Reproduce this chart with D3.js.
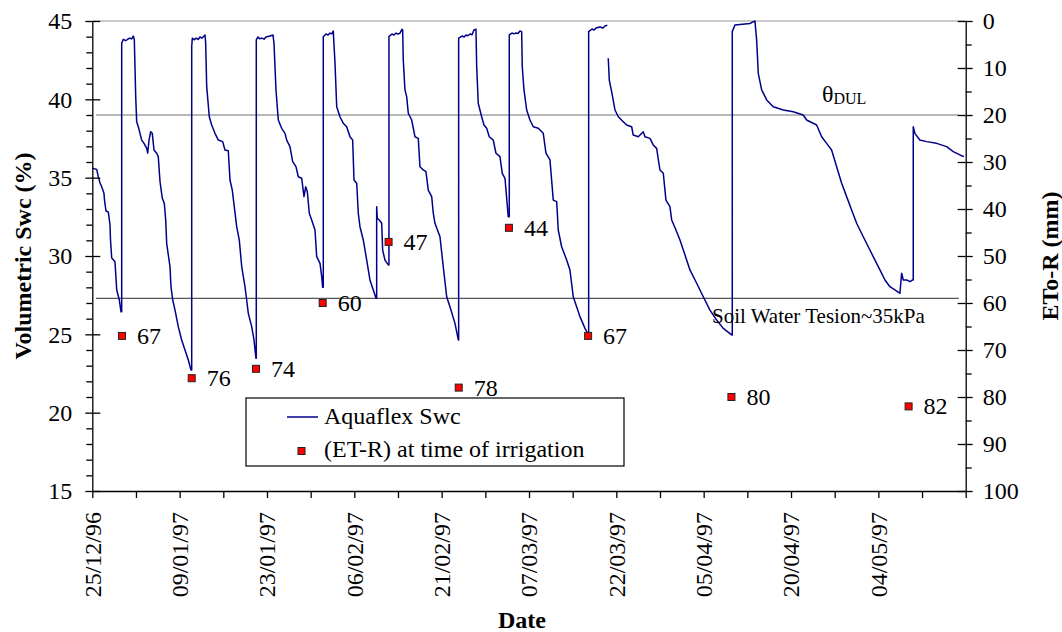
<!DOCTYPE html>
<html>
<head>
<meta charset="utf-8">
<script src="https://cdn.jsdelivr.net/npm/d3@7"></script>
<style>
  body { margin: 0; background: #fff; }
  svg { display: block; }
  text { font-family: "Liberation Serif", "Times New Roman", serif; fill: #000; }
</style>
</head>
<body>
<svg id="chart" width="1062" height="632"></svg>
<script>
// Aquaflex soil water content, days counted from 25/12/96; null marks a logging gap
const swcSeries = [
  [0,35.60],[0.73,35.53],[0.99,35.06],[1.27,34.68],[1.55,34.42],[1.93,34.0],[2.02,33.57],[2.27,32.87],[2.65,32.81],[2.93,31.98],[3.01,31.02],[3.21,29.87],[3.75,29.64],[4.04,27.83],[4.47,27.19],[4.75,26.44],
  [4.86,26.44],[4.86,43.58],
  [5.13,43.83],[5.5,43.74],[5.90,43.85],[6.23,43.91],[6.5,43.86],[6.78,44.04],[6.95,43.79],[7.06,42.08],[7.18,40.17],[7.34,38.57],[7.61,38.25],[7.89,37.83],[8.17,37.40],[8.55,37.19],[9.0,36.87],[9.16,36.56],[9.38,37.40],[9.66,37.93],[9.92,37.83],[10.20,36.77],[10.65,36.56],[10.91,36.34],[11.20,34.74],[11.58,33.68],[11.91,33.36],[12.14,32.30],[12.30,30.81],[12.85,29.32],[13.01,28.04],[13.30,27.19],[13.68,26.55],[14.22,25.49],[14.78,24.64],[15.33,24.0],[15.88,23.36],[16.32,22.72],
  [16.44,22.72],[16.44,43.36],
  [16.54,43.90],[16.9,43.80],[17.15,43.91],[17.5,43.82],[17.81,43.98],[18.1,43.90],[18.47,44.04],[18.64,44.11],[18.75,43.58],[18.92,40.81],[19.35,38.89],[19.74,38.36],[20.29,37.83],[20.84,37.40],[21.56,37.30],[21.94,36.77],[22.49,36.72],[22.77,34.85],[23.15,34.21],[23.48,33.15],[23.88,31.87],[24.31,31.02],[24.71,29.32],[25.25,28.04],[25.53,27.19],[25.80,26.34],[26.36,25.49],[26.74,24.64],[27.07,23.47],
  [27.12,23.47],[27.12,43.79],
  [27.40,43.98],[27.7,43.86],[28.06,43.91],[28.4,43.84],[28.72,43.98],[29.39,44.04],[29.88,44.11],[30.05,43.58],[30.38,40.60],[30.76,38.68],[31.32,38.15],[31.87,37.83],[32.15,37.40],[32.69,36.98],[33.14,36.02],[33.68,35.70],[34.07,35.06],[34.63,34.96],[35.01,33.79],[35.29,34.42],[35.56,34.10],[35.89,32.73],[36.28,32.30],[36.83,31.66],[37.11,29.96],[37.66,29.53],[37.94,28.68],[38.10,28.0],
  [38.20,28.0],[38.20,44.0],
  [38.65,44.17],[39.0,44.10],[39.31,44.23],[39.6,44.18],[39.85,44.36],[40.14,42.30],[40.42,39.53],[40.96,38.89],[41.51,38.47],[42.07,38.25],[42.62,37.61],[43.06,37.40],[43.28,34.85],[43.73,34.64],[43.99,32.73],[44.27,31.87],[44.82,31.02],[45.38,29.74],[45.92,28.47],[46.47,27.83],[46.92,27.30],
  [47.03,27.30],[47.03,33.15],
  [47.13,32.41],[47.46,32.30],[47.86,32.09],[48.02,30.38],[48.40,29.74],[48.95,29.43],
  [49.06,29.43],[49.06,44.0],
  [49.56,44.17],[49.9,44.10],[50.22,44.23],[50.55,44.16],[50.88,44.23],[51.21,44.47],[51.33,44.43],[51.43,42.51],[51.71,40.60],[51.99,40.17],[52.26,39.11],[52.82,38.68],[53.37,37.61],[53.91,37.51],[54.19,35.70],[54.74,35.49],[55.18,35.38],[55.56,34.21],[56.13,33.79],[56.39,32.73],[56.67,32.09],[57.50,31.23],[58.04,29.32],[58.61,27.40],[59.15,26.76],[59.98,25.70],[60.53,24.64],
  [60.59,24.64],[60.59,43.90],
  [61.14,44.04],[61.5,43.98],[61.80,44.11],[62.1,44.06],[62.46,44.17],[62.8,44.12],[63.12,44.43],[63.45,44.47],[63.57,42.08],[63.83,39.75],[64.39,38.89],[64.78,38.36],[65.22,38.15],[65.65,37.61],[66.31,37.40],[66.76,36.56],[67.42,36.34],[67.80,35.28],[68.25,34.96],[68.79,32.51],
  [68.96,32.51],[68.96,44.11],
  [69.41,44.23],[69.75,44.18],[70.07,44.23],[70.4,44.20],[70.73,44.36],[71.01,44.32],[71.11,42.08],[71.39,40.60],[71.84,39.32],[72.38,38.68],[72.93,38.25],[73.76,38.15],[74.58,37.83],[75.03,36.56],[75.69,36.13],[76.24,33.57],[76.80,33.47],[77.06,31.66],[77.62,30.59],[78.45,29.74],[78.99,29.11],[79.54,27.40],[80.10,26.76],[80.65,26.13],[81.48,25.38],[81.92,25.07],
  [82.09,25.07],[82.09,44.32],
  [82.64,44.49],[83.0,44.42],[83.30,44.55],[83.96,44.62],[84.46,44.55],[84.79,44.68],[85.17,44.74],
  [85.25,null],
  [85.33,42.62],[85.50,41.23],[85.89,40.49],[86.44,39.32],[86.99,38.89],[87.81,38.57],[88.37,38.36],[89.20,38.25],[89.46,37.72],[90.29,37.61],[91.12,37.93],[91.40,37.61],[92.23,37.51],[92.77,37.09],[93.33,36.87],[93.88,35.49],[94.43,35.28],[94.87,33.57],[95.53,33.15],[95.82,32.30],[96.53,31.66],[97.19,31.02],[98.02,30.06],[98.84,29.11],[99.95,28.26],[101.04,27.40],[102.15,26.55],[103.26,25.91],[104.35,25.38],[105.74,24.96],
  [105.84,24.96],[105.84,44.32],
  [106.28,44.74],[107.11,44.78],[107.93,44.81],[108.76,44.84],[109.26,44.94],[109.59,45.0],[109.87,43.79],[110.14,41.66],[110.70,40.60],[111.53,39.96],[112.62,39.53],[114.27,39.32],[115.92,39.21],[117.58,39.0],[118.14,38.68],[119.79,38.36],[120.62,37.61],[121.45,37.19],[122.27,36.77],[123.10,35.70],[123.93,34.64],[124.75,33.79],[125.58,32.94],[126.41,32.09],[127.50,31.23],[128.33,30.59],[129.15,29.96],[130.26,29.11],[131.09,28.47],[131.91,28.04],[132.74,27.83],[133.57,27.62],[133.85,28.90],[134.12,28.47],[134.68,28.47],[135.23,28.36],[135.67,28.47],
  [135.77,28.47],[135.77,38.25],
  [136.04,37.83],[136.86,37.40],[137.98,37.30],[139.63,37.19],[141.29,36.98],[142.38,36.66],[143.49,36.45],[144.15,36.34]
];

// (ETo - R) accumulated at each irrigation event
const irrigationDays = [4.91, 16.44, 27.07, 38.1, 49.0, 60.6, 68.9, 82.0, 105.7, 135.0];
const etMinusR = [67, 76, 74, 60, 47, 78, 44, 67, 80, 82];

// reference water contents (%)
const dulValue = 39;
const tensionValue = 27.3;
const refLineSpan = [0.6, 143.3];

// date axis
const dateLabels = ["25/12/96", "09/01/97", "23/01/97", "06/02/97", "21/02/97",
                    "07/03/97", "22/03/97", "05/04/97", "20/04/97", "04/05/97"];
const majorUnit = 130 / 9;          // days between labelled dates
const axisDays = majorUnit * 10;

const leftTicks = [15, 20, 25, 30, 35, 40, 45];
const rightTicks = [0, 10, 20, 30, 40, 50, 60, 70, 80, 90, 100];

const svg = d3.select("#chart");
const m = { left: 92.3, right: 965.7, top: 21, bottom: 491 };

const x = d3.scaleLinear().domain([0, axisDays]).range([m.left, m.right]);
const yL = d3.scaleLinear().domain([15, 45]).range([m.bottom, m.top]);
const yR = d3.scaleLinear().domain([100, 0]).range([m.bottom, m.top]);

const FONT = 24;

// plot area top edge
svg.append("line")
  .attr("x1", m.left).attr("x2", m.right)
  .attr("y1", m.top).attr("y2", m.top)
  .attr("stroke", "#9a9a9a").attr("stroke-width", 1.2);

// reference lines
svg.append("line")
  .attr("x1", x(refLineSpan[0])).attr("x2", x(refLineSpan[1]))
  .attr("y1", yL(dulValue)).attr("y2", yL(dulValue))
  .attr("stroke", "#a0a0a0").attr("stroke-width", 1.4);
svg.append("line")
  .attr("x1", x(refLineSpan[0])).attr("x2", x(refLineSpan[1]))
  .attr("y1", yL(tensionValue)).attr("y2", yL(tensionValue))
  .attr("stroke", "#555").attr("stroke-width", 1.3);

// soil water content trace
const line = d3.line()
  .defined(d => d[1] != null)
  .x(d => x(d[0]))
  .y(d => yL(d[1]));
svg.append("path")
  .datum(swcSeries)
  .attr("d", line)
  .attr("fill", "none")
  .attr("stroke", "#00008b")
  .attr("stroke-width", 1.5)
  .attr("stroke-linejoin", "round");

// irrigation markers and their labels
const marks = svg.append("g");
irrigationDays.forEach((d, i) => {
  const cx = x(d), cy = yR(etMinusR[i]);
  marks.append("rect")
    .attr("x", cx - 3.5).attr("y", cy - 3.5)
    .attr("width", 7).attr("height", 7)
    .attr("fill", "#ff0000").attr("stroke", "#222").attr("stroke-width", 1);
  marks.append("text")
    .attr("x", cx + 15).attr("y", cy + 8)
    .attr("font-size", FONT)
    .text(etMinusR[i]);
});

// left axis
const gL = svg.append("g").attr("transform", `translate(${m.left},0)`);
gL.call(d3.axisLeft(yL).tickValues(leftTicks).tickSize(7).tickSizeOuter(0).tickPadding(13));
gL.append("g").call(d3.axisLeft(yL).tickValues(d3.range(16, 45, 1).filter(v => v % 5)).tickSize(6).tickFormat(""))
  .select(".domain").remove();
gL.append("g").call(d3.axisRight(yL).tickValues(leftTicks).tickSize(8).tickFormat(""))
  .select(".domain").remove();

// right axis
const gR = svg.append("g").attr("transform", `translate(${m.right},0)`);
gR.call(d3.axisRight(yR).tickValues(rightTicks).tickSize(7).tickSizeOuter(0).tickPadding(10));
gR.append("g").call(d3.axisRight(yR).tickValues(d3.range(5, 100, 10)).tickSize(6).tickFormat(""))
  .select(".domain").remove();
gR.append("g").call(d3.axisLeft(yR).tickValues(rightTicks).tickSize(8).tickFormat(""))
  .select(".domain").remove();

// bottom axis
const gB = svg.append("g").attr("transform", `translate(0,${m.bottom})`);
gB.call(d3.axisBottom(x).tickValues(d3.range(0, 21).map(k => k * majorUnit / 2))
  .tickSize(7).tickSizeOuter(0).tickFormat(""));
dateLabels.forEach((lab, i) => {
  gB.append("text")
    .attr("transform", `translate(${x(i * majorUnit)},21) rotate(-90)`)
    .attr("text-anchor", "end")
    .attr("dy", "0.35em")
    .attr("font-size", FONT)
    .text(lab);
});

svg.selectAll(".domain, .tick line").attr("stroke", "#000").attr("stroke-width", 1.3);
svg.selectAll(".tick text").attr("font-size", FONT)
  .attr("font-family", "Liberation Serif, Times New Roman, serif").attr("fill", "#000");

// axis titles
svg.append("text")
  .attr("transform", `translate(31,${(m.top + m.bottom) / 2}) rotate(-90)`)
  .attr("text-anchor", "middle").attr("font-weight", "bold").attr("font-size", FONT)
  .text("Volumetric Swc (%)");
svg.append("text")
  .attr("transform", `translate(1058,${(m.top + m.bottom) / 2}) rotate(-90)`)
  .attr("text-anchor", "middle").attr("font-weight", "bold").attr("font-size", FONT)
  .text("ETo-R (mm)");
svg.append("text")
  .attr("x", 522).attr("y", 628)
  .attr("text-anchor", "middle").attr("font-weight", "bold").attr("font-size", FONT)
  .text("Date");

// reference line annotations
const dul = svg.append("text").attr("x", 822).attr("y", 102).attr("font-size", FONT);
dul.append("tspan").text("θ");
dul.append("tspan").attr("font-size", 16).attr("dy", 2).text("DUL");
svg.append("text").attr("x", 712).attr("y", 323).attr("font-size", 21)
  .text("Soil Water Tesion~35kPa");

// legend
const lg = svg.append("g");
lg.append("rect").attr("x", 246).attr("y", 398).attr("width", 378).attr("height", 68)
  .attr("fill", "#fff").attr("stroke", "#000").attr("stroke-width", 1.2);
lg.append("line").attr("x1", 287).attr("x2", 318).attr("y1", 417).attr("y2", 417)
  .attr("stroke", "#00008b").attr("stroke-width", 1.5);
lg.append("text").attr("x", 324).attr("y", 424).attr("font-size", FONT).text("Aquaflex Swc");
lg.append("rect").attr("x", 298).attr("y", 447.5).attr("width", 7).attr("height", 7)
  .attr("fill", "#ff0000").attr("stroke", "#222").attr("stroke-width", 1);
lg.append("text").attr("x", 324).attr("y", 457).attr("font-size", FONT).text("(ET-R) at time of irrigation");
</script>
</body>
</html>
